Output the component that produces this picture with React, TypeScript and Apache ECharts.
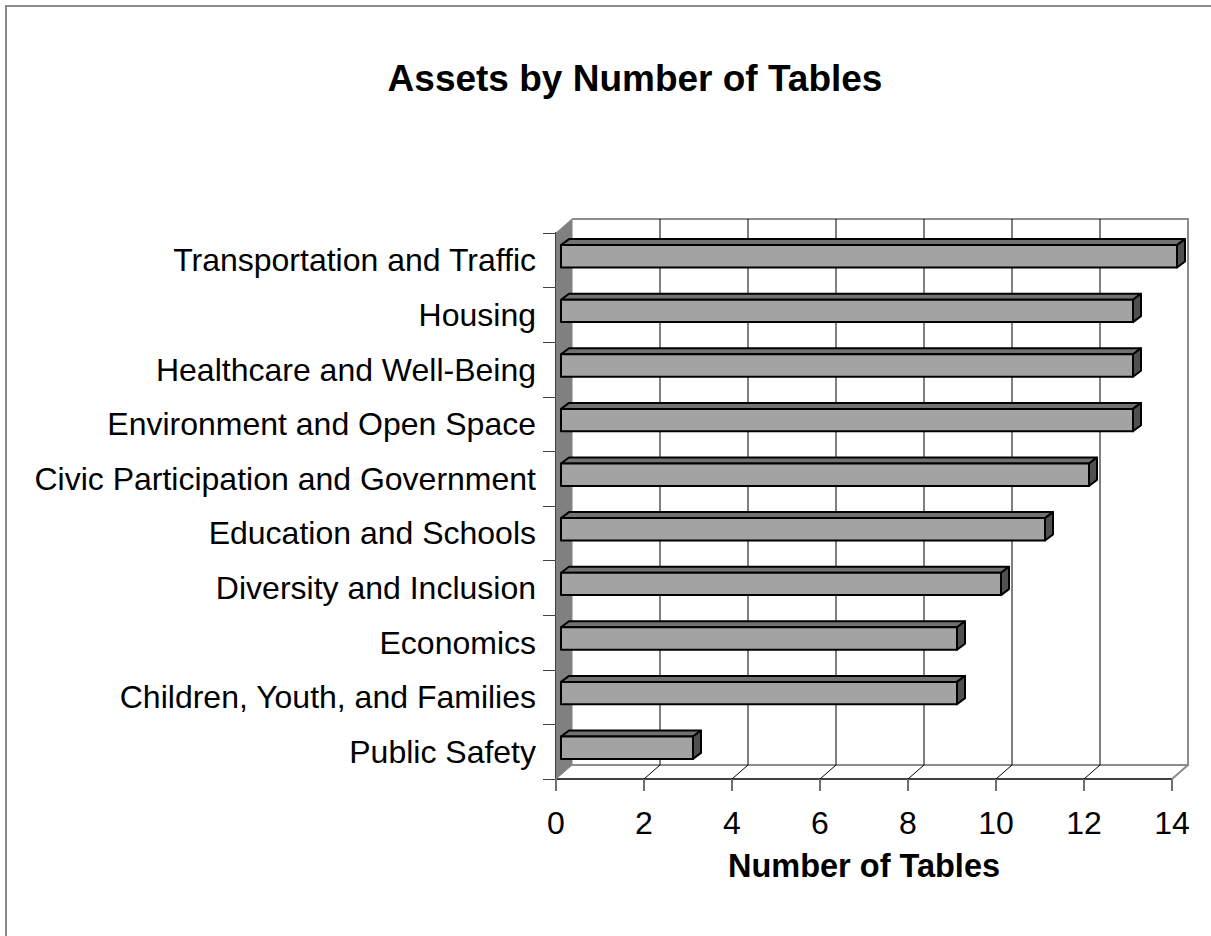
import React, { useEffect, useRef } from "react";
import * as echarts from "echarts";

const categories = [
  "Transportation and Traffic",
  "Housing",
  "Healthcare and Well-Being",
  "Environment and Open Space",
  "Civic Participation and Government",
  "Education and Schools",
  "Diversity and Inclusion",
  "Economics",
  "Children, Youth, and Families",
  "Public Safety",
];
const tableCounts = [14, 13, 13, 13, 12, 11, 10, 9, 9, 3];
const xTicks = [0, 2, 4, 6, 8, 10, 12, 14];
const innerGridTicks = [2, 4, 6, 8, 10, 12];

const FONT = "'Liberation Sans', Arial, sans-serif";
const DX = 16;
const DY = -14;

export default function App() {
  const ref = useRef<HTMLDivElement>(null);
  useEffect(() => {
    if (!ref.current) return;
    const chart = echarts.init(ref.current, null, { renderer: "svg" });

    const frameItem = (params: any, api: any) => {
      const cs = params.coordSys;
      const x0 = cs.x, y0 = cs.y, x1 = cs.x + cs.width, y1 = cs.y + cs.height;
      return {
        type: "group",
        children: [
          {
            type: "polygon",
            shape: { points: [[x0, y0], [x0 + DX, y0 + DY], [x0 + DX, y1 + DY], [x0, y1]] },
            style: { fill: "#808080", stroke: "#808080", lineWidth: 1 },
          },
          {
            type: "polyline",
            shape: { points: [[x0 + DX, y0 + DY], [x1 + DX, y0 + DY], [x1 + DX, y1 + DY], [x0 + DX, y1 + DY]] },
            style: { fill: null, stroke: "#8c8c8c", lineWidth: 2 },
          },
          {
            type: "line",
            shape: { x1: x1, y1: y1, x2: x1 + DX, y2: y1 + DY },
            style: { stroke: "#8c8c8c", lineWidth: 2 },
          },
        ],
      };
    };

    const gridItem = (params: any, api: any) => {
      const cs = params.coordSys;
      const y0 = cs.y, y1 = cs.y + cs.height;
      const p = api.coord([api.value(0), 0]);
      const x = p[0];
      return {
        type: "group",
        children: [
          {
            type: "line",
            shape: { x1: x + DX, y1: y0 + DY, x2: x + DX, y2: y1 + DY },
            style: { stroke: "#000", lineWidth: 1 },
          },
          {
            type: "line",
            shape: { x1: x, y1: y1, x2: x + DX, y2: y1 + DY },
            style: { stroke: "#000", lineWidth: 1 },
          },
        ],
      };
    };

    const barItem = (params: any, api: any) => {
      const v = api.value(0);
      const idx = api.value(1);
      const p0 = api.coord([0, idx]);
      const p1 = api.coord([v, idx]);
      const band = api.size([0, 1])[1];
      const h = band * 0.41;
      const fx0 = p0[0] + 5;
      const fx1 = p1[0] + 5;
      const cy = p0[1] - 4;
      const top = cy - h / 2;
      const bot = cy + h / 2;
      const bdx = 8, bdy = -6;
      const st = { stroke: "#000", lineWidth: 2, lineJoin: "round" };
      return {
        type: "group",
        children: [
          {
            type: "polygon",
            shape: { points: [[fx0, top], [fx1, top], [fx1 + bdx, top + bdy], [fx0 + bdx, top + bdy]] },
            style: { fill: "#727272", ...st },
          },
          {
            type: "polygon",
            shape: { points: [[fx1, top], [fx1 + bdx, top + bdy], [fx1 + bdx, bot + bdy], [fx1, bot]] },
            style: { fill: "#505050", ...st },
          },
          {
            type: "rect",
            shape: { x: fx0, y: top, width: fx1 - fx0, height: bot - top },
            style: { fill: "#a3a3a3", ...st },
          },
        ],
      };
    };

    chart.setOption({
      animation: false,
      backgroundColor: "#fff",
      title: {
        text: "Assets by Number of Tables",
        left: 630,
        textAlign: "center",
        top: 55,
        textStyle: { fontFamily: FONT, fontSize: 37, fontWeight: "bold", color: "#000" },
      },
      graphic: [
        {
          type: "rect",
          shape: { x: 6, y: 6, width: 1300, height: 1100 },
          style: { fill: null, stroke: "#8a8a8a", lineWidth: 2 },
          silent: true,
        },
      ],
      grid: { left: 556, right: 39, top: 233, bottom: 157 },
      xAxis: {
        type: "value",
        min: 0,
        max: 14,
        interval: 2,
        name: "Number of Tables",
        nameLocation: "middle",
        nameGap: 70,
        nameTextStyle: { fontFamily: FONT, fontSize: 32.5, fontWeight: "bold", color: "#000" },
        axisLine: { show: true, lineStyle: { color: "#404040", width: 2 } },
        axisTick: { show: true, length: 12, lineStyle: { color: "#707070", width: 2 } },
        axisLabel: {
          fontFamily: FONT, fontSize: 32, color: "#000", margin: 28,
          formatter: (v: number) => (xTicks.includes(v) ? String(v) : ""),
        },
        splitLine: { show: false },
      },
      yAxis: {
        type: "category",
        data: categories,
        inverse: true,
        axisLine: { show: true, lineStyle: { color: "#000", width: 2 } },
        axisTick: { show: true, length: 13, lineStyle: { color: "#404040", width: 1 } },
        axisLabel: { fontFamily: FONT, fontSize: 32, color: "#000", margin: 20 },
        splitLine: { show: false },
      },
      series: [
        {
          type: "custom",
          renderItem: frameItem,
          data: [[0, 0]],
          encode: { x: 0, y: 1 },
          z: 1,
          silent: true,
        },
        {
          type: "custom",
          renderItem: gridItem,
          data: innerGridTicks.map((t) => [t, 0]),
          encode: { x: 0, y: 1 },
          z: 2,
          silent: true,
        },
        {
          type: "custom",
          renderItem: barItem,
          data: tableCounts.map((v, i) => [v, i]),
          encode: { x: 0, y: 1 },
          z: 3,
        },
      ],
    });
    return () => chart.dispose();
  }, []);
  return (
    <div
      ref={ref}
      style={{ position: "absolute", left: 0, top: 0, width: 1211, height: 936 }}
    />
  );
}
